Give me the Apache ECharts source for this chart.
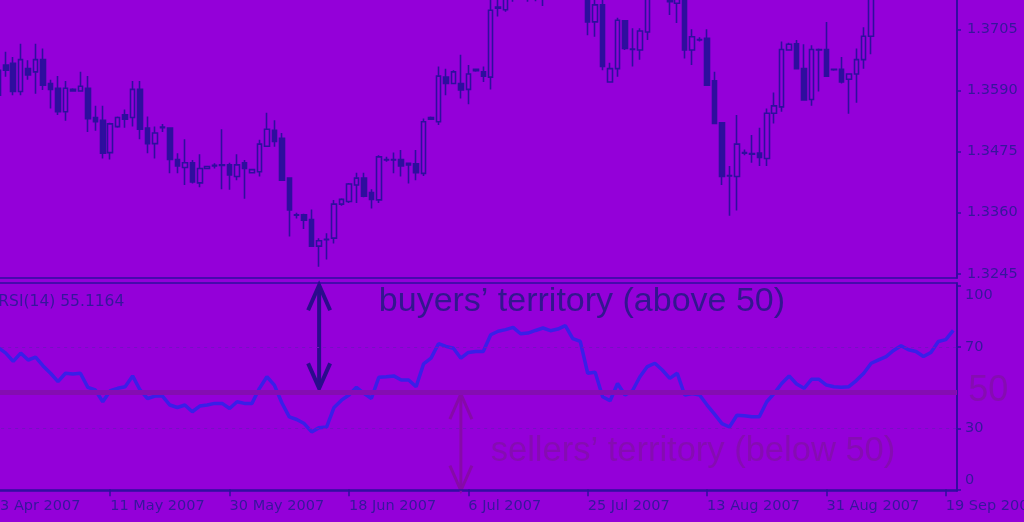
<!DOCTYPE html>
<html><head><meta charset="utf-8">
<script src="https://cdn.jsdelivr.net/npm/echarts@6/dist/echarts.min.js"></script>
<style>html,body{margin:0;padding:0;background:#9400d9;overflow:hidden}#c{width:1024px;height:522px}</style>
</head><body><div id="c"></div>
<script>
// ---- categories: daily bars (incl. Sunday bars, no Saturdays) from 23 Apr 2007 ----
const MONTHS = ['Jan','Feb','Mar','Apr','May','Jun','Jul','Aug','Sep','Oct','Nov','Dec'];
const categories = [];
(function(){ let d = new Date(Date.UTC(2007,3,23));
  while (categories.length < 130) { if (d.getUTCDay() !== 6) categories.push(d.getUTCDate()+' '+MONTHS[d.getUTCMonth()]+' '+d.getUTCFullYear()); d = new Date(d.getTime()+86400000); } })();

// ---- price (OHLC) ----
const open = [1.3640,1.3628,1.3638,1.3641,1.3588,1.3631,1.3625,1.3648,1.3603,1.3594,1.3550,1.3589,1.3589,1.3594,1.3539,1.3534,1.3473,1.3522,1.3544,1.3539,
1.3592,1.3519,1.3490,1.3521,1.3519,1.3460,1.3445,1.3454,1.3416,1.3443,1.3448,1.3450,1.3450,1.3428,1.3454,1.3435,1.3437,1.3485,1.3515,1.3500,
1.3425,1.3356,1.3356,1.3347,1.3297,1.3309,1.3312,1.3376,1.3381,1.3412,1.3425,1.3398,1.3384,1.3460,1.3459,1.3460,1.3453,1.3452,1.3434,1.3536,
1.3531,1.3615,1.3603,1.3603,1.3592,1.3630,1.3625,1.3615,1.3745,1.3742,1.3770,1.3785,1.3800,1.3790,1.3795,1.3785,1.3800,1.3795,1.3815,1.3800,
1.3790,1.3719,1.3751,1.3606,1.3631,1.3721,1.3667,1.3666,1.3700,1.3770,1.3780,1.3765,1.3754,1.3770,1.3666,1.3686,1.3688,1.3608,1.3529,1.3430,
1.3428,1.3473,1.3471,1.3472,1.3462,1.3547,1.3559,1.3666,1.3678,1.3631,1.3573,1.3667,1.3667,1.3630,1.3630,1.3611,1.3621,1.3648,1.3692,1.3775,
1.3790,1.3810,1.3835,1.3860,1.3845,1.3840,1.3830,1.3850,1.3890,1.3900];
const close = [1.3625,1.3581,1.3628,1.3588,1.3648,1.3619,1.3648,1.3600,1.3592,1.3550,1.3594,1.3592,1.3598,1.3537,1.3531,1.3472,1.3527,1.3539,1.3536,1.3592,
1.3517,1.3490,1.3510,1.3520,1.3460,1.3448,1.3454,1.3418,1.3443,1.3447,1.3449,1.3449,1.3431,1.3450,1.3443,1.3441,1.3489,1.3517,1.3494,1.3421,
1.3365,1.3355,1.3346,1.3297,1.3307,1.3310,1.3376,1.3385,1.3414,1.3425,1.3391,1.3385,1.3465,1.3459,1.3460,1.3448,1.3450,1.3435,1.3531,1.3539,
1.3617,1.3603,1.3625,1.3591,1.3621,1.3627,1.3617,1.3741,1.3747,1.3765,1.3785,1.3800,1.3790,1.3795,1.3785,1.3800,1.3795,1.3815,1.3800,1.3790,
1.3719,1.3751,1.3635,1.3631,1.3722,1.3669,1.3668,1.3702,1.3770,1.3780,1.3765,1.3757,1.3765,1.3666,1.3691,1.3685,1.3600,1.3528,1.3428,1.3429,
1.3489,1.3472,1.3470,1.3464,1.3547,1.3561,1.3667,1.3677,1.3631,1.3572,1.3667,1.3666,1.3617,1.3629,1.3606,1.3621,1.3648,1.3692,1.3775,1.3790,
1.3810,1.3835,1.3860,1.3845,1.3840,1.3830,1.3850,1.3890,1.3900,1.3935];
const low = [1.3600,1.3575,1.3616,1.3581,1.3581,1.3610,1.3584,1.3591,1.3556,1.3544,1.3533,1.3589,1.3589,1.3512,1.3514,1.3462,1.3460,1.3520,1.3520,1.3522,
1.3498,1.3472,1.3462,1.3512,1.3434,1.3434,1.3412,1.3415,1.3408,1.3443,1.3443,1.3404,1.3403,1.3421,1.3386,1.3435,1.3428,1.3484,1.3484,1.3421,
1.3315,1.3349,1.3329,1.3296,1.3258,1.3272,1.3302,1.3373,1.3378,1.3378,1.3389,1.3368,1.3378,1.3456,1.3434,1.3428,1.3415,1.3421,1.3429,1.3536,
1.3525,1.3581,1.3602,1.3575,1.3564,1.3625,1.3606,1.3592,1.3729,1.3738,1.3757,1.3770,1.3757,1.3758,1.3749,1.3770,1.3775,1.3780,1.3785,1.3770,
1.3694,1.3691,1.3628,1.3606,1.3616,1.3666,1.3635,1.3648,1.3685,1.3765,1.3763,1.3732,1.3717,1.3650,1.3638,1.3682,1.3600,1.3528,1.3412,1.3354,
1.3364,1.3468,1.3454,1.3448,1.3448,1.3528,1.3550,1.3665,1.3631,1.3572,1.3561,1.3588,1.3617,1.3627,1.3603,1.3546,1.3567,1.3631,1.3658,1.3765,
1.3780,1.3800,1.3825,1.3835,1.3825,1.3815,1.3820,1.3840,1.3875,1.3890];
const high = [1.3655,1.3638,1.3663,1.3653,1.3678,1.3647,1.3678,1.3669,1.3610,1.3617,1.3608,1.3594,1.3625,1.3617,1.3561,1.3561,1.3529,1.3541,1.3554,1.3608,
1.3608,1.3541,1.3522,1.3527,1.3519,1.3472,1.3498,1.3459,1.3470,1.3448,1.3453,1.3517,1.3454,1.3470,1.3459,1.3441,1.3497,1.3548,1.3534,1.3510,
1.3425,1.3360,1.3358,1.3366,1.3312,1.3321,1.3384,1.3387,1.3416,1.3435,1.3435,1.3404,1.3468,1.3465,1.3473,1.3478,1.3453,1.3478,1.3537,1.3541,
1.3635,1.3631,1.3628,1.3657,1.3638,1.3630,1.3635,1.3765,1.3770,1.3775,1.3800,1.3815,1.3812,1.3810,1.3805,1.3815,1.3820,1.3830,1.3825,1.3815,
1.3800,1.3765,1.3762,1.3642,1.3727,1.3722,1.3707,1.3707,1.3785,1.3795,1.3790,1.3780,1.3775,1.3785,1.3705,1.3690,1.3705,1.3625,1.3529,1.3448,
1.3544,1.3479,1.3506,1.3520,1.3556,1.3586,1.3682,1.3680,1.3685,1.3677,1.3675,1.3669,1.3719,1.3631,1.3653,1.3622,1.3669,1.3709,1.3790,1.3800,
1.3820,1.3845,1.3870,1.3870,1.3860,1.3850,1.3860,1.3900,1.3915,1.3945];

// ---- RSI(14) ----
const rsi = [71.0,69.5,66.9,62.8,66.9,63.5,64.9,60.6,57.0,52.9,57.0,56.6,57.0,50.1,48.8,43.0,48.4,49.6,50.4,55.7,
48.8,44.6,45.8,45.8,41.4,40.2,41.4,38.1,40.9,41.4,42.2,42.2,39.7,43.0,42.2,42.2,49.6,55.3,51.2,42.5,
35.6,34.3,32.3,28.2,30.3,30.6,40.2,43.8,46.3,50.1,47.1,44.6,55.0,55.3,55.7,53.7,53.7,50.4,61.6,64.4,
71.5,70.2,69.3,64.4,67.2,67.7,67.7,75.9,77.6,78.4,79.5,76.4,76.7,78.0,79.2,77.9,78.7,80.4,74.0,72.6,
57.0,57.5,45.5,43.5,52.0,46.3,48.4,55.3,60.3,61.9,58.6,54.5,57.0,46.3,47.1,46.3,41.4,36.9,32.3,30.6,
36.4,36.1,35.6,35.6,43.0,47.1,52.0,55.7,51.7,49.6,54.0,54.0,51.2,50.4,50.1,50.4,53.4,57.0,61.9,63.6,
65.2,68.2,70.5,68.5,67.7,65.2,67.2,72.6,73.5,78.0];

// ---- tick labels ----
const priceTicks = [1.3245, 1.3360, 1.3475, 1.3590, 1.3705];
const rsiTicks = [0, 30, 70, 100];
const rsiLevels = [70, 30];
const midLevel = 47.8;

// ---- annotations (data coordinates of lower panel) ----
const rsiLabel = {text: 'RSI(14) 55.1164', idx: 0.75, val: 92.1};
const buyersText = {text: 'buyers\u2019 territory (above 50)', idx: 51.65, val: 92.4};
const sellersText = {text: 'sellers\u2019 territory (below 50)', idx: 67.1, val: 18.7};
const fiftyText = {text: '50', idx: 131.45, val: 48.3};
const buyersArrow = {idx: 44.2, from: 100.2, to: 49.6};
const sellersArrow = {idx: 63.2, from: 46.8, to: -0.6};

const BG = '#9400d9', INK = '#2e0e9e', TXT = '#36169c', RSI_C = '#3a1ee8', MAG = '#850cb2';
const FONT = 'DejaVu Sans';

const chart = echarts.init(document.getElementById('c'));
const everyLabel = (i) => i % 16 === 0;
const gridBase = {left: -12.87, right: 67, show: true, borderColor: INK, borderWidth: 1.5, backgroundColor: 'transparent', containLabel: false, outerBoundsMode: 'none'};
const option = {
  backgroundColor: BG,
  animation: false,
  grid: [
    Object.assign({top: -2, height: 280}, gridBase),
    Object.assign({top: 283, height: 208}, gridBase)
  ],
  xAxis: [
    {type: 'category', gridIndex: 0, data: categories, boundaryGap: true, axisLine: {show: false}, axisTick: {show: false}, axisLabel: {show: false}},
    {type: 'category', gridIndex: 1, data: categories, boundaryGap: true,
     axisLine: {show: true, lineStyle: {color: INK, width: 1.5}},
     axisTick: {show: true, alignWithLabel: true, interval: everyLabel, length: 7, lineStyle: {color: INK, width: 1.5}},
     axisLabel: {interval: everyLabel, align: 'left', margin: 8, color: TXT, fontFamily: FONT, fontSize: 14.5, hideOverlap: false}}
  ],
  yAxis: [
    {type: 'value', gridIndex: 0, position: 'right', min: 1.3237, max: 1.3764, scale: true,
     splitLine: {show: false},
     axisLine: {show: true, lineStyle: {color: INK, width: 1.5}},
     axisTick: {show: true, customValues: priceTicks, length: 4, lineStyle: {color: INK, width: 1.5}},
     axisLabel: {customValues: priceTicks, formatter: v => v.toFixed(4), color: TXT, fontFamily: FONT, fontSize: 14.5, margin: 10}},
    {type: 'value', gridIndex: 1, position: 'right', min: -0.8, max: 101.3,
     splitLine: {show: false},
     axisLine: {show: true, lineStyle: {color: INK, width: 1.5}},
     axisTick: {show: true, customValues: rsiTicks, length: 4, lineStyle: {color: INK, width: 1.5}},
     axisLabel: {customValues: rsiTicks, color: TXT, fontFamily: FONT, fontSize: 14.5, margin: 8,
       formatter: v => v === 100 ? '{t|100}' : (v === 0 ? '{b|0}' : '{n|' + v + '}'),
       rich: {
         t: {padding: [20, 0, 0, 0], color: TXT, fontFamily: FONT, fontSize: 14.5},
         b: {padding: [0, 0, 18, 0], color: TXT, fontFamily: FONT, fontSize: 14.5},
         n: {color: TXT, fontFamily: FONT, fontSize: 14.5}
       }}}
  ],
  series: [
    {type: 'candlestick', xAxisIndex: 0, yAxisIndex: 0, clip: true, barWidth: 5,
     data: open.map((o, i) => [o, close[i], low[i], high[i]]),
     itemStyle: {color: BG, color0: INK, borderColor: INK, borderColor0: INK, borderWidth: 1.6}},
    {type: 'line', xAxisIndex: 1, yAxisIndex: 1, data: rsi, symbol: 'none', clip: true,
     lineStyle: {color: RSI_C, width: 3.5},
     markLine: {silent: true, symbol: 'none', label: {show: false},
       data: rsiLevels.map(v => ({yAxis: v, lineStyle: {type: [3, 4], color: '#760fc4', width: 1}}))
         .concat([{yAxis: midLevel, lineStyle: {type: 'solid', color: MAG, width: 5}}])}}
  ]
};
chart.setOption(option);

const P = (idx, val) => chart.convertToPixel({gridIndex: 1}, [idx, val]);
const g = [];
function text(t, color, size) {
  const p = P(t.idx, t.val);
  g.push({type: 'text', x: p[0], y: p[1], style: {text: t.text, fill: color, fontFamily: 'Liberation Sans', fontSize: size, verticalAlign: 'middle', align: 'left'}});
}
function arrow(a, color, w) {
  const p1 = P(a.idx, a.from), p2 = P(a.idx, a.to);
  const x = p1[0], y1 = p1[1], y2 = p2[1];
  const st = {stroke: color, lineWidth: w, fill: null, lineCap: 'butt', lineJoin: 'miter'};
  g.push({type: 'polyline', shape: {points: [[x, y1 + 1], [x, y2 - 1]]}, style: st});
  g.push({type: 'polyline', shape: {points: [[x - 11, y1 + 25], [x, y1], [x + 11, y1 + 25]]}, style: st});
  g.push({type: 'polyline', shape: {points: [[x - 11, y2 - 25], [x, y2], [x + 11, y2 - 25]]}, style: st});
}
arrow(buyersArrow, '#2a0c8c', 4);
arrow(sellersArrow, '#860aa8', 3);
text(buyersText, '#33168f', 34);
text(sellersText, MAG, 34.5);
text(fiftyText, MAG, 36);
const rp = P(rsiLabel.idx, rsiLabel.val);
g.push({type: 'text', x: rp[0], y: rp[1], style: {text: rsiLabel.text, fill: TXT, fontFamily: FONT, fontSize: 15.5, verticalAlign: 'middle', align: 'left'}});
chart.setOption({graphic: g});
</script></body></html>
